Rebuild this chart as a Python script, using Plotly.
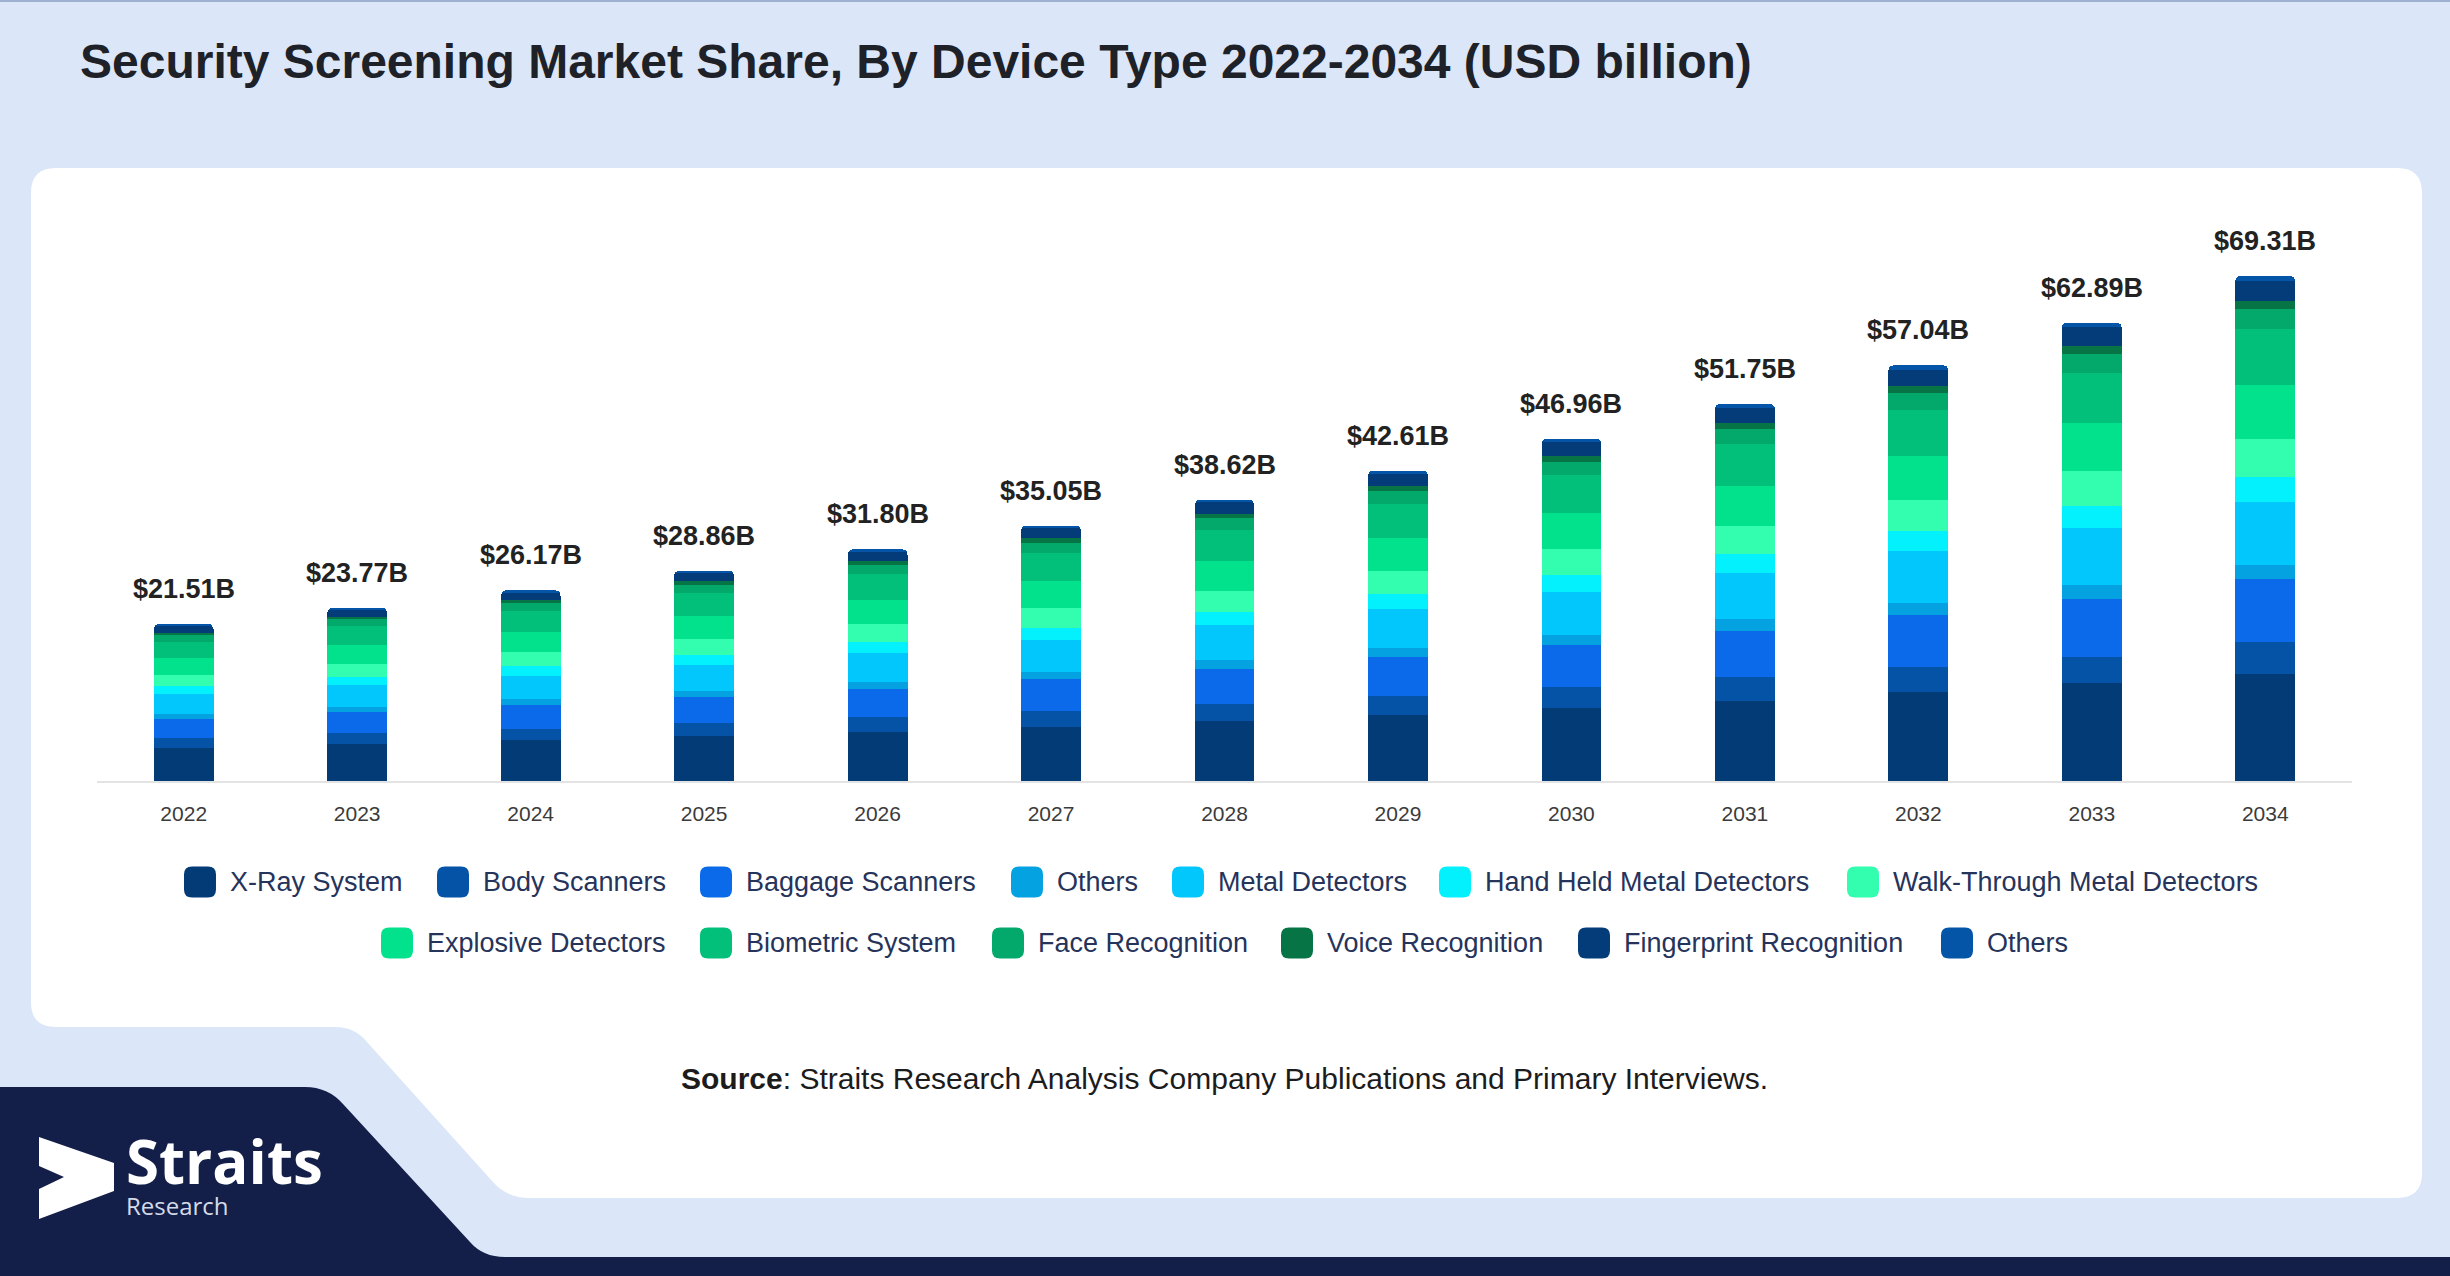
import plotly.graph_objects as go

# ---------------- data ----------------
years = ["2022", "2023", "2024", "2025", "2026", "2027", "2028",
         "2029", "2030", "2031", "2032", "2033", "2034"]
totals = [21.51, 23.77, 26.17, 28.86, 31.80, 35.05, 38.62,
          42.61, 46.96, 51.75, 57.04, 62.89, 69.31]

xray_system = [4.58, 5.08, 5.57, 6.15, 6.78, 7.46, 8.23, 9.07, 9.99, 11.01, 12.15, 13.40, 14.73]
body_scanners = [1.37, 1.47, 1.62, 1.79, 1.97, 2.17, 2.39, 2.64, 2.91, 3.21, 3.54, 3.66, 4.32]
baggage_scanners = [2.61, 2.95, 3.25, 3.58, 3.94, 4.35, 4.79, 5.28, 5.82, 6.42, 7.07, 7.96, 8.63]
others_screening = [0.62, 0.70, 0.77, 0.85, 0.94, 1.03, 1.14, 1.26, 1.39, 1.53, 1.68, 1.88, 2.03]
metal_detectors = [2.75, 2.96, 3.26, 3.59, 3.96, 4.36, 4.81, 5.30, 5.85, 6.44, 7.10, 7.87, 8.63]
hand_held = [1.05, 1.15, 1.27, 1.40, 1.54, 1.70, 1.87, 2.07, 2.28, 2.51, 2.77, 2.97, 3.45]
walk_through = [1.60, 1.79, 1.98, 2.18, 2.40, 2.65, 2.92, 3.22, 3.55, 3.91, 4.31, 4.80, 5.18]
explosive = [2.24, 2.52, 2.77, 3.06, 3.37, 3.72, 4.09, 4.52, 4.98, 5.49, 6.05, 6.63, 7.36]
biometric = [2.29, 2.61, 2.88, 3.17, 3.50, 3.86, 4.25, 4.69, 5.17, 5.69, 6.27, 6.86, 7.72]
face_recognition = [0.90, 0.96, 1.06, 1.17, 1.29, 1.42, 1.56, 1.73, 1.90, 2.10, 2.31, 2.65, 2.69]
voice_recognition = [0.36, 0.39, 0.43, 0.48, 0.52, 0.58, 0.64, 0.70, 0.77, 0.85, 0.94, 1.01, 1.17]
fingerprint = [0.92, 0.95, 1.05, 1.15, 1.27, 1.40, 1.54, 1.70, 1.88, 2.07, 2.28, 2.65, 2.74]
others_biometric = [0.22, 0.24, 0.26, 0.29, 0.32, 0.35, 0.39, 0.43, 0.47, 0.52, 0.57, 0.55, 0.66]

series_names = ["X-Ray System", "Body Scanners", "Baggage Scanners", "Others",
                "Metal Detectors", "Hand Held Metal Detectors", "Walk-Through Metal Detectors",
                "Explosive Detectors", "Biometric System", "Face Recognition",
                "Voice Recognition", "Fingerprint Recognition", "Others"]
series_values = [xray_system, body_scanners, baggage_scanners, others_screening,
                 metal_detectors, hand_held, walk_through, explosive, biometric,
                 face_recognition, voice_recognition, fingerprint, others_biometric]

# ---------------- styles ----------------
colors = ["#033b77", "#0453a6", "#0a6ae9", "#05a2e2", "#02c7fd", "#02f1fc", "#33fdae",
          "#02e18c", "#02c07a", "#03a96a", "#067444", "#043c7a", "#0455a8"]

W, H = 2450, 1276
FONT = "Liberation Sans, Arial, Helvetica, sans-serif"


def px(x):
    return x / W


def py(y):
    return 1 - y / H


def path(cmds):
    out = []
    for c in cmds:
        if isinstance(c, str):
            out.append(c)
        else:
            out.append(f"{px(c[0]):.5f},{py(c[1]):.5f}")
    return " ".join(out)


def rounded_rect(x0, y0, x1, y1, r):
    return path(["M", (x0 + r, y0), "L", (x1 - r, y0), "Q", (x1, y0), (x1, y0 + r),
                 "L", (x1, y1 - r), "Q", (x1, y1), (x1 - r, y1),
                 "L", (x0 + r, y1), "Q", (x0, y1), (x0, y1 - r),
                 "L", (x0, y0 + r), "Q", (x0, y0), (x0 + r, y0), "Z"])


fig = go.Figure()
for name, vals, col in zip(series_names, series_values, colors):
    fig.add_trace(go.Bar(x=years, y=vals, name=name, marker=dict(color=col, line=dict(width=0)),
                         showlegend=False))

# axis geometry
base_px, top_px = 781, 200
units_per_px = 1 / 7.285
ymax = (base_px - top_px) * units_per_px

shapes = []
# white panel
shapes.append(dict(type="path", xref="paper", yref="paper", layer="below",
                   fillcolor="white", line=dict(width=0),
                   path=path(["M", (56, 168), "L", (2397, 168), "Q", (2422, 168), (2422, 193),
                              "L", (2422, 1173), "Q", (2422, 1198), (2397, 1198),
                              "L", (530, 1198), "Q", (507, 1198), (493, 1182),
                              "L", (367, 1042), "Q", (355, 1027), (335, 1027),
                              "L", (56, 1027), "Q", (31, 1027), (31, 1002),
                              "L", (31, 193), "Q", (31, 168), (56, 168), "Z"])))
# navy footer shape
shapes.append(dict(type="path", xref="paper", yref="paper", layer="below",
                   fillcolor="#131f48", line=dict(width=0),
                   path=path(["M", (0, 1087), "L", (305, 1087), "Q", (328, 1087), (343, 1104),
                              "L", (470, 1242), "Q", (483, 1257), (505, 1257),
                              "L", (2450, 1257), "L", (2450, 1276), "L", (0, 1276), "Z"])))
# top thin border
shapes.append(dict(type="line", xref="paper", yref="paper", layer="below",
                   x0=0, x1=1, y0=py(1), y1=py(1), line=dict(color="#9eb0d0", width=2)))
# logo arrow
shapes.append(dict(type="path", xref="paper", yref="paper", layer="above",
                   fillcolor="white", line=dict(width=0),
                   path=path(["M", (39, 1137), "L", (114, 1163), "L", (114, 1191), "L", (39, 1219),
                              "L", (39, 1189), "L", (64, 1177), "L", (39, 1166), "Z"])))

annotations = []
# title
annotations.append(dict(xref="paper", yref="paper", x=px(78), y=py(62), xanchor="left", yanchor="middle",
                        text="<b>Security Screening Market Share, By Device Type 2022-2034 (USD billion)</b>",
                        showarrow=False, font=dict(family=FONT, size=48, color="#1e2228")))
# totals above bars (x given as category index)
for i, tot in enumerate(totals):
    annotations.append(dict(x=i, y=tot, xref="x", yref="y", yanchor="middle", yshift=35,
                            text=f"<b>${tot:.2f}B</b>", showarrow=False,
                            font=dict(family=FONT, size=27, color="#222222")))

# custom legend (two centred rows)
legend_rows = [(882, [184, 437, 700, 1011, 1172, 1439, 1847]),
               (943, [381, 700, 992, 1281, 1578, 1941])]
idx = 0
for ycen, xs in legend_rows:
    for x0 in xs:
        shapes.append(dict(type="path", xref="paper", yref="paper", layer="above",
                           path=rounded_rect(x0, ycen - 15.5, x0 + 32, ycen + 15.5, 8),
                           fillcolor=colors[idx], line=dict(width=0)))
        annotations.append(dict(xref="paper", yref="paper", x=px(x0 + 44), y=py(ycen),
                                xanchor="left", yanchor="middle", text=series_names[idx],
                                showarrow=False, font=dict(family=FONT, size=27, color="#26335a")))
        idx += 1

# source
annotations.append(dict(xref="paper", yref="paper", x=px(1224), y=py(1078), xanchor="center", yanchor="middle",
                        text="<b>Source</b>: Straits Research Analysis Company Publications and Primary Interviews.",
                        showarrow=False, font=dict(family=FONT, size=30, color="#1c1c1c")))
# logo text (one block, two lines)
annotations.append(dict(xref="paper", yref="paper", x=px(124), y=py(1224), xanchor="left", yanchor="bottom",
                        align="left",
                        text="<span style='font-size:60px;color:#ffffff'><b>Straits</b></span><br>Research",
                        showarrow=False,
                        font=dict(family="Open Sans, DejaVu Sans, sans-serif", size=24, color="#d5dbe8")))

fig.update_layout(
    width=W, height=H,
    margin=dict(l=0, r=0, t=0, b=0, autoexpand=False),
    paper_bgcolor="#dbe7f8",
    plot_bgcolor="rgba(0,0,0,0)",
    barmode="stack",
    bargap=0.655,
    barcornerradius=5,
    showlegend=False,
    shapes=shapes,
    annotations=annotations,
    xaxis=dict(type="category", range=[-0.5, len(years) - 0.5], domain=[px(97), px(2352)],
               showgrid=False, zeroline=False,
               showline=True, linecolor="#e3e3e3", linewidth=2, automargin=False,
               ticks="outside", ticklen=13, tickcolor="rgba(0,0,0,0)",
               tickfont=dict(family=FONT, size=21, color="#3b3b3b"), fixedrange=True),
    yaxis=dict(domain=[py(base_px), py(top_px)], range=[0, ymax], showgrid=False, automargin=False,
               zeroline=False, showticklabels=False, showline=False, fixedrange=True),
)

fig.write_html("out.html")
